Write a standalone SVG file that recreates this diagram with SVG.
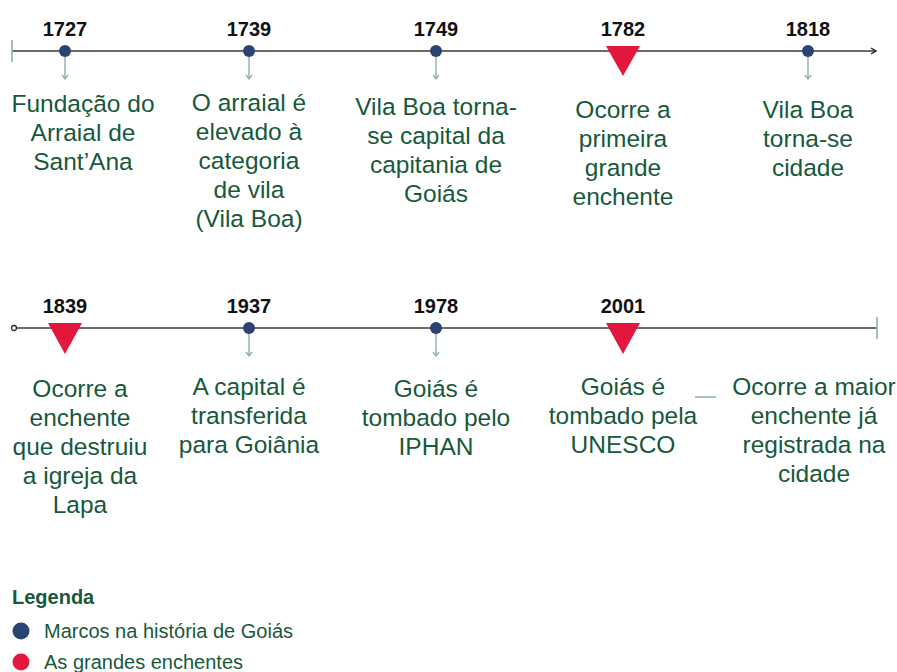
<svg xmlns="http://www.w3.org/2000/svg" width="897" height="672" viewBox="0 0 897 672">
<style>
.yr{font-family:"Liberation Sans",Arial,sans-serif;font-weight:bold;font-size:20px;fill:#111;text-anchor:middle}
.lb{font-family:"Liberation Sans",Arial,sans-serif;font-size:24.5px;fill:#17593a;text-anchor:middle}
.axis{stroke:#3a3a3a;stroke-width:1.6;fill:none}
.tick{stroke:#8fb0a4;stroke-width:1.6}
.drop{stroke:#8fb0a4;stroke-width:1.4;fill:none}
.dot{fill:#2b4373}
.flood{fill:#e3173e}
.lg{font-family:"Liberation Sans",Arial,sans-serif;font-size:20px;fill:#17593a}
</style>
<defs>
<marker id="ah" markerWidth="8" markerHeight="8" refX="6" refY="4" orient="auto" markerUnits="userSpaceOnUse">
<path d="M1,1 L6,4 L1,7" fill="none" stroke="#222" stroke-width="1.4"/>
</marker>
<marker id="dh" markerWidth="8" markerHeight="8" refX="4" refY="6" orient="0" markerUnits="userSpaceOnUse">
<path d="M1,2 L4,6 L7,2" fill="none" stroke="#8fb0a4" stroke-width="1.3"/>
</marker>
</defs>
<g id="connectors">
<line class="axis" x1="12" y1="51" x2="876" y2="51" marker-end="url(#ah)"/>
<line class="tick" x1="12" y1="40" x2="12" y2="62"/>
<line class="axis" x1="17" y1="328" x2="877" y2="328"/>
<circle cx="14" cy="328" r="2.5" fill="#fff" stroke="#333" stroke-width="1.3"/>
<line class="tick" x1="877" y1="317" x2="877" y2="339"/>
<line class="drop" x1="65" y1="56" x2="65" y2="79" marker-end="url(#dh)"/>
<line class="drop" x1="249" y1="56" x2="249" y2="79" marker-end="url(#dh)"/>
<line class="drop" x1="436" y1="56" x2="436" y2="79" marker-end="url(#dh)"/>
<line class="drop" x1="808" y1="56" x2="808" y2="79" marker-end="url(#dh)"/>
<line class="drop" x1="249" y1="333" x2="249" y2="356" marker-end="url(#dh)"/>
<line class="drop" x1="436" y1="333" x2="436" y2="356" marker-end="url(#dh)"/>
<line x1="695" y1="397" x2="716" y2="397" stroke="#a8c4b8" stroke-width="2"/>
</g>
<g id="e1727"><text class="yr" x="65" y="36">1727</text><circle class="dot" cx="65" cy="51" r="6"/>
<text class="lb"><tspan x="83" y="112">Fundação do</tspan><tspan x="83" y="141">Arraial de</tspan><tspan x="83" y="170">Sant’Ana</tspan></text></g>
<g id="e1739"><text class="yr" x="249" y="36">1739</text><circle class="dot" cx="249" cy="51" r="6"/>
<text class="lb"><tspan x="249" y="111">O arraial é</tspan><tspan x="249" y="140">elevado à</tspan><tspan x="249" y="169">categoria</tspan><tspan x="249" y="198">de vila</tspan><tspan x="249" y="227">(Vila Boa)</tspan></text></g>
<g id="e1749"><text class="yr" x="436" y="36">1749</text><circle class="dot" cx="436" cy="51" r="6"/>
<text class="lb"><tspan x="436" y="115">Vila Boa torna-</tspan><tspan x="436" y="144">se capital da</tspan><tspan x="436" y="173">capitania de</tspan><tspan x="436" y="202">Goiás</tspan></text></g>
<g id="e1782"><text class="yr" x="623" y="36">1782</text><polygon class="flood" points="606,46 640,46 623,76"/>
<text class="lb"><tspan x="623" y="118">Ocorre a</tspan><tspan x="623" y="147">primeira</tspan><tspan x="623" y="176">grande</tspan><tspan x="623" y="205">enchente</tspan></text></g>
<g id="e1818"><text class="yr" x="808" y="36">1818</text><circle class="dot" cx="808" cy="51" r="6"/>
<text class="lb"><tspan x="808" y="118">Vila Boa</tspan><tspan x="808" y="147">torna-se</tspan><tspan x="808" y="176">cidade</tspan></text></g>
<g id="e1839"><text class="yr" x="65" y="313">1839</text><polygon class="flood" points="48,323 82,323 65,354"/>
<text class="lb"><tspan x="80" y="397">Ocorre a</tspan><tspan x="80" y="426">enchente</tspan><tspan x="80" y="455">que destruiu</tspan><tspan x="80" y="484">a igreja da</tspan><tspan x="80" y="513">Lapa</tspan></text></g>
<g id="e1937"><text class="yr" x="249" y="313">1937</text><circle class="dot" cx="249" cy="328" r="6"/>
<text class="lb"><tspan x="249" y="395">A capital é</tspan><tspan x="249" y="424">transferida</tspan><tspan x="249" y="453">para Goiânia</tspan></text></g>
<g id="e1978"><text class="yr" x="436" y="313">1978</text><circle class="dot" cx="436" cy="328" r="6"/>
<text class="lb"><tspan x="436" y="397">Goiás é</tspan><tspan x="436" y="426">tombado pelo</tspan><tspan x="436" y="455">IPHAN</tspan></text></g>
<g id="e2001"><text class="yr" x="623" y="313">2001</text><polygon class="flood" points="606,323 640,323 623,354"/>
<text class="lb"><tspan x="623" y="395">Goiás é</tspan><tspan x="623" y="424">tombado pela</tspan><tspan x="623" y="453">UNESCO</tspan></text></g>
<g id="e2001b">
<text class="lb"><tspan x="814" y="395">Ocorre a maior</tspan><tspan x="814" y="424">enchente já</tspan><tspan x="814" y="453">registrada na</tspan><tspan x="814" y="482">cidade</tspan></text></g>
<g id="legend">
<text x="12" y="604" font-family="Liberation Sans, Arial, sans-serif" font-weight="bold" font-size="20" fill="#17593a">Legenda</text>
<circle class="dot" cx="21" cy="631" r="8.5"/>
<text class="lg" x="44" y="638">Marcos na história de Goiás</text>
<circle class="flood" cx="21" cy="662" r="8.5"/>
<text class="lg" x="44" y="669">As grandes enchentes</text>
</g>
</svg>
